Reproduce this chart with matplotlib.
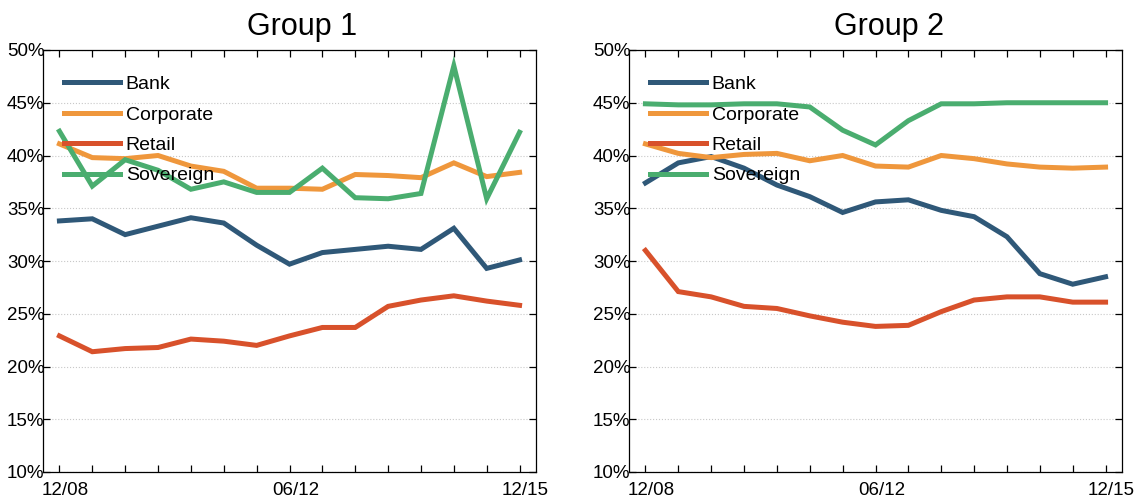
import matplotlib
matplotlib.use("Agg")
import matplotlib.pyplot as plt
import matplotlib.transforms as mtransforms
import numpy as np

plt.rcParams['font.family'] = ['Liberation Sans', 'DejaVu Sans']

# half-year periods 12/08 .. 12/15
periods = ["12/08", "06/09", "12/09", "06/10", "12/10", "06/11", "12/11", "06/12",
           "12/12", "06/13", "12/13", "06/14", "12/14", "06/15", "12/15"]
tick_labels = ["12/08", "", "", "", "", "", "", "06/12", "", "", "", "", "", "", "12/15"]

series_names = ["Bank", "Corporate", "Retail", "Sovereign"]
colors = ["#2f5878", "#ef973c", "#d8512b", "#4aad6f"]

# Group 1 (%)
g1_bank = [33.8, 34.0, 32.5, 33.3, 34.1, 33.6, 31.5, 29.7, 30.8, 31.1, 31.4, 31.1, 33.1, 29.3, 30.1]
g1_corp = [41.1, 39.8, 39.7, 40.0, 39.0, 38.5, 36.9, 36.9, 36.8, 38.2, 38.1, 37.9, 39.3, 38.0, 38.4]
g1_retail = [22.9, 21.4, 21.7, 21.8, 22.6, 22.4, 22.0, 22.9, 23.7, 23.7, 25.7, 26.3, 26.7, 26.2, 25.8]
g1_sov = [42.3, 37.1, 39.6, 38.6, 36.8, 37.5, 36.5, 36.5, 38.8, 36.0, 35.9, 36.4, 48.5, 35.9, 42.2]

# Group 2 (%)
g2_bank = [37.4, 39.3, 39.9, 38.8, 37.2, 36.1, 34.6, 35.6, 35.8, 34.8, 34.2, 32.3, 28.8, 27.8, 28.5]
g2_corp = [41.1, 40.2, 39.8, 40.1, 40.2, 39.5, 40.0, 39.0, 38.9, 40.0, 39.7, 39.2, 38.9, 38.8, 38.9]
g2_retail = [31.0, 27.1, 26.6, 25.7, 25.5, 24.8, 24.2, 23.8, 23.9, 25.2, 26.3, 26.6, 26.6, 26.1, 26.1]
g2_sov = [44.9, 44.8, 44.8, 44.9, 44.9, 44.6, 42.4, 41.0, 43.3, 44.9, 44.9, 45.0, 45.0, 45.0, 45.0]

groups = [("Group 1", [g1_bank, g1_corp, g1_retail, g1_sov]),
          ("Group 2", [g2_bank, g2_corp, g2_retail, g2_sov])]

fig = plt.figure(figsize=(11.42, 5), dpi=100)
W, H = 1142, 500
boxes = [(43, 536), (629, 1122)]
title_x = [0.525, 0.527]

x = np.arange(len(periods))
for k, (title, data) in enumerate(groups):
    l, r = boxes[k]
    ax = fig.add_axes([l / W, (H - 472) / H, (r - l) / W, (472 - 50) / H])
    for name, vals, c in zip(series_names, data, colors):
        ax.plot(x, vals, color=c, lw=3.6, label=name, solid_joinstyle='miter')
    ax.set_xlim(-0.5, 14.5)
    ax.set_ylim(10, 50)
    ax.set_yticks(np.arange(10, 51, 5))
    ax.set_yticklabels([f"{v}%" for v in range(10, 51, 5)])
    ax.set_xticks(x)
    ax.set_xticklabels(tick_labels)
    ax.tick_params(axis='both', direction='in', length=5, width=0.9,
                   top=True, right=True, labelsize=13.5)
    ax.tick_params(axis='y', pad=-1)
    ax.tick_params(axis='x', pad=7)
    off = mtransforms.ScaledTranslation(6 / 100, 0, fig.dpi_scale_trans)
    for lab in ax.get_xticklabels():
        lab.set_transform(lab.get_transform() + off)
    ax.grid(True, axis='y', color='#c8c8c8', linestyle=':', lw=0.8)
    ax.set_axisbelow(True)
    for s in ax.spines.values():
        s.set_linewidth(0.9)
    ax.set_title(title, fontsize=22, x=title_x[k], pad=11)
    ax.legend(loc='upper left', bbox_to_anchor=(0.026, 0.958), frameon=False,
              fontsize=14, handlelength=2.9, handletextpad=0.3,
              labelspacing=0.66, borderaxespad=0)

fig.savefig("out.png", dpi=100)
